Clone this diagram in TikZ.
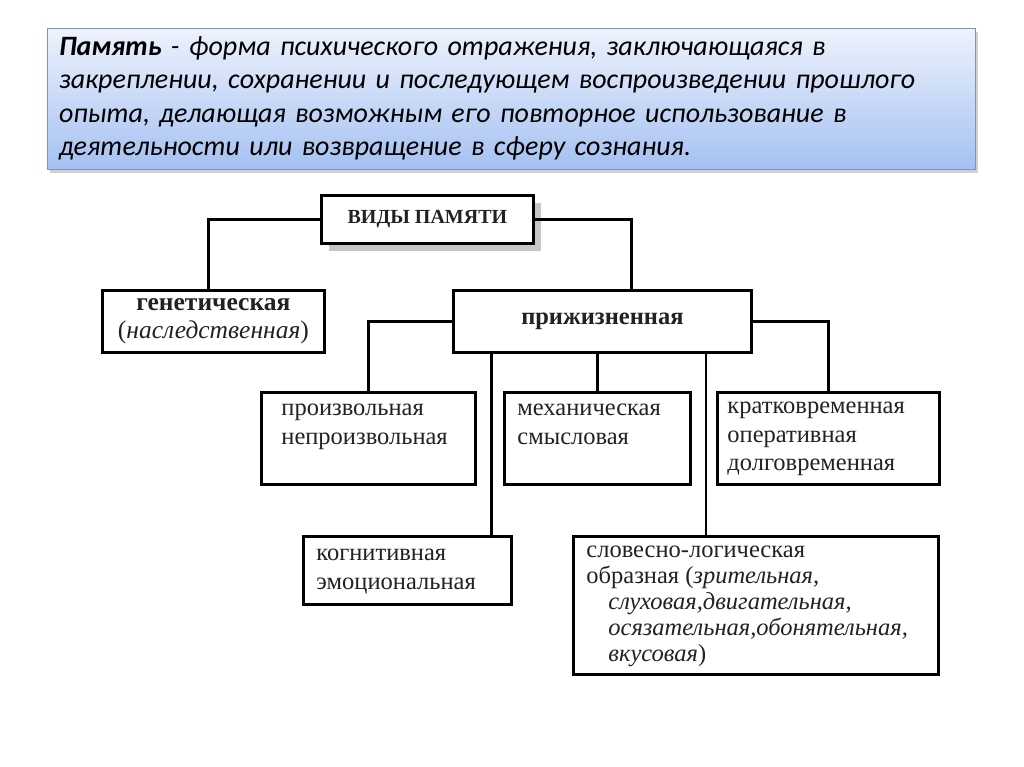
\documentclass[tikz,border=0pt]{standalone}
\usepackage{fontspec}
\setmainfont{Liberation Serif}
\newfontfamily\defnfont{Carlito}
\usetikzlibrary{positioning,shadows}

\definecolor{topblue}{HTML}{EDF2FC}
\definecolor{botblue}{HTML}{A5C1F2}
\definecolor{rimblue}{HTML}{8193B8}
\definecolor{inkgray}{HTML}{222222}

\begin{document}
\begin{tikzpicture}[
  x=1pt, y=-1pt,
  defnbox/.style={draw=rimblue, line width=1pt, anchor=north west,
    top color=topblue, bottom color=botblue, inner xsep=11pt,
    minimum width=928pt, minimum height=130pt, text width=905pt, align=left,
    drop shadow={shadow xshift=2pt, shadow yshift=-4pt, fill=gray!60, opacity=.6},
    font=\defnfont\itshape\fontsize{28}{33.5}\selectfont},
  box/.style={draw, line width=2.8pt, anchor=north west, fill=white,
    text=inkgray, inner sep=0pt},
  headbox/.style={box, align=center, font=\fontsize{25.5}{28}\selectfont},
  listbox/.style={box, inner xsep=13pt, inner ysep=12pt,
    font=\fontsize{24.5}{28.5}\selectfont},
  link/.style={line width=2.8pt}
]
\useasboundingbox (0,0) rectangle (1024,767);

% Definition
\node[defnbox] (defn) at (47,28) {\begin{tabular}{@{}l@{}}
\textbf{Память} - форма психического отражения, заключающаяся в\\
закреплении, сохранении и последующем воспроизведении прошлого\\
опыта, делающая возможным его повторное использование в\\
деятельности или возвращение в сферу сознания.\end{tabular}};

% Boxes
\node[headbox, minimum width=212pt, minimum height=48pt,
  drop shadow={shadow xshift=8pt, shadow yshift=-8pt, fill=gray!45, opacity=1},
  font=\bfseries\fontsize{20}{24}\selectfont] (vid) at (320,194) {ВИДЫ ПАМЯТИ};
\node[headbox, minimum width=222pt, minimum height=62pt] (gen) at (101,289)
  {\textbf{генетическая}\\(\textit{наследственная})};
\node[headbox, minimum width=298pt, minimum height=62pt,
  font=\fontsize{24.5}{28}\selectfont] (prj) at (452,289)
  {\textbf{прижизненная}};
\node[listbox, inner xsep=20pt] (prz) at (260,391)
  {\parbox[c][68pt][t]{174pt}{произвольная\\непроизвольная}};
\node[listbox] (meh) at (503,391)
  {\parbox[c][68pt][t]{160pt}{механическая\\смысловая}};
\node[listbox, inner xsep=10pt, inner ysep=10pt] (krt) at (716,391)
  {\parbox[c][72pt][t]{202pt}{кратковременная\\оперативная\\долговременная}};
\node[listbox, inner ysep=13pt] (kog) at (302,535)
  {\parbox[c][42pt][t]{182pt}{когнитивная\\эмоциональная}};
\node[listbox, inner ysep=10pt, font=\fontsize{24.5}{26}\selectfont] (slv) at (572,535)
  {\parbox[c][118pt][t]{339pt}{словесно-логическая\\
   образная (\textit{зрительная,}\\
   \hspace*{22pt}\textit{слуховая,двигательная,}\\
   \hspace*{22pt}\textit{осязательная,обонятельная,}\\
   \hspace*{22pt}\textit{вкусовая})}};

% Links
\coordinate (p) at ([xshift=29pt]prj.north);
\coordinate (g) at ([xshift=-5pt]gen.north);
\coordinate (k) at ([xshift=84pt]kog.north);
\coordinate (s) at ([xshift=-50pt]slv.north);
\draw[link] (vid.west) -| (g);
\draw[link] (vid.east) -| (p);
\draw[link] (prj.west) -| (prz.north);
\draw[link] (prj.east) -| (krt.north);
\draw[link] (meh.north) -- (meh.north |- prj.south);
\draw[link] (k) -- (k |- prj.south);
\draw[link] (s) -- (s |- prj.south);
\end{tikzpicture}
\end{document}
